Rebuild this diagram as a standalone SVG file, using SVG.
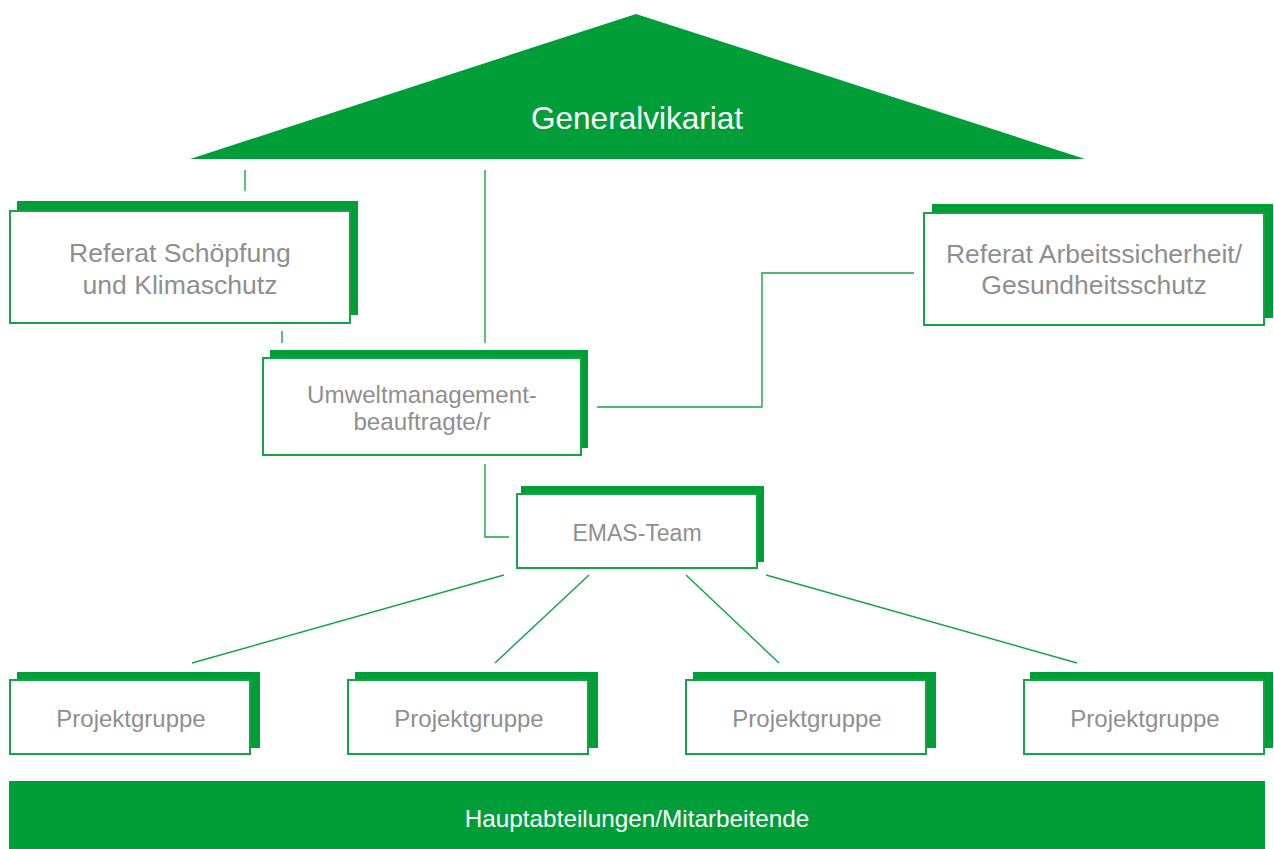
<svg xmlns="http://www.w3.org/2000/svg" width="1274" height="849" viewBox="0 0 1274 849">
<style>
.sh{fill:#009e39}
.fr{fill:#ffffff;stroke:#13a545;stroke-width:2}
.ln{fill:none;stroke:#13a545;stroke-width:1.4}
.t{font-family:"Liberation Sans",Arial,sans-serif;fill:#8f8f8f;text-anchor:middle}
.w{font-family:"Liberation Sans",Arial,sans-serif;fill:#ffffff;text-anchor:middle}
</style>
<rect width="1274" height="849" fill="#ffffff"/>
<g id="connectors">
<line class="ln" x1="245" y1="170" x2="245" y2="191"/>
<line class="ln" x1="485" y1="170" x2="485" y2="343"/>
<line class="ln" x1="282" y1="331" x2="282" y2="343"/>
<polyline class="ln" points="597,407 762,407 762,273 914,273"/>
<polyline class="ln" points="485,464 485,537 509,537"/>
<line class="ln" x1="504" y1="575" x2="192" y2="663"/>
<line class="ln" x1="589" y1="575" x2="495" y2="663"/>
<line class="ln" x1="686" y1="575" x2="779" y2="663"/>
<line class="ln" x1="766" y1="575" x2="1077" y2="663"/>
</g>
<g id="generalvikariat">
<polygon points="636,14 1085,159 190,159" fill="#009e39"/>
<text class="w" x="637" y="129" font-size="31.5">Generalvikariat</text>
</g>
<g id="referat-schoepfung">
<rect class="sh" x="17" y="201" width="341" height="114"/>
<rect class="fr" x="10" y="211" width="340" height="112"/>
<text class="t" x="180" y="262" font-size="26.6">Referat Schöpfung</text>
<text class="t" x="180" y="294" font-size="26.6">und Klimaschutz</text>
</g>
<g id="umweltmanagement">
<rect class="sh" x="270" y="350" width="318" height="98"/>
<rect class="fr" x="263" y="358" width="318" height="97"/>
<text class="t" x="422" y="403" font-size="24.2">Umweltmanagement-</text>
<text class="t" x="422" y="430" font-size="24.2">beauftragte/r</text>
</g>
<g id="referat-arbeitssicherheit">
<rect class="sh" x="932" y="204" width="341" height="114"/>
<rect class="fr" x="924" y="213" width="340" height="112"/>
<text class="t" x="1094" y="263" font-size="26.5">Referat Arbeitssicherheit/</text>
<text class="t" x="1094" y="294" font-size="26.5">Gesundheitsschutz</text>
</g>
<g id="emas-team">
<rect class="sh" x="521" y="486" width="243" height="76"/>
<rect class="fr" x="517" y="494" width="240" height="74"/>
<text class="t" x="637" y="541" font-size="23">EMAS-Team</text>
</g>
<g id="projektgruppe-1">
<rect class="sh" x="17" y="672" width="243" height="76"/>
<rect class="fr" x="10" y="680" width="240" height="74"/>
<text class="t" x="131" y="727" font-size="24">Projektgruppe</text>
</g>
<g id="projektgruppe-2">
<rect class="sh" x="355" y="672" width="243" height="76"/>
<rect class="fr" x="348" y="680" width="240" height="74"/>
<text class="t" x="469" y="727" font-size="24">Projektgruppe</text>
</g>
<g id="projektgruppe-3">
<rect class="sh" x="693" y="672" width="243" height="76"/>
<rect class="fr" x="686" y="680" width="240" height="74"/>
<text class="t" x="807" y="727" font-size="24">Projektgruppe</text>
</g>
<g id="projektgruppe-4">
<rect class="sh" x="1030" y="672" width="243" height="76"/>
<rect class="fr" x="1024" y="680" width="240" height="74"/>
<text class="t" x="1145" y="727" font-size="24">Projektgruppe</text>
</g>
<g id="hauptabteilungen">
<rect class="sh" x="9" y="781" width="1256" height="68"/>
<text class="w" x="637" y="827" font-size="24.3">Hauptabteilungen/Mitarbeitende</text>
</g>
</svg>
